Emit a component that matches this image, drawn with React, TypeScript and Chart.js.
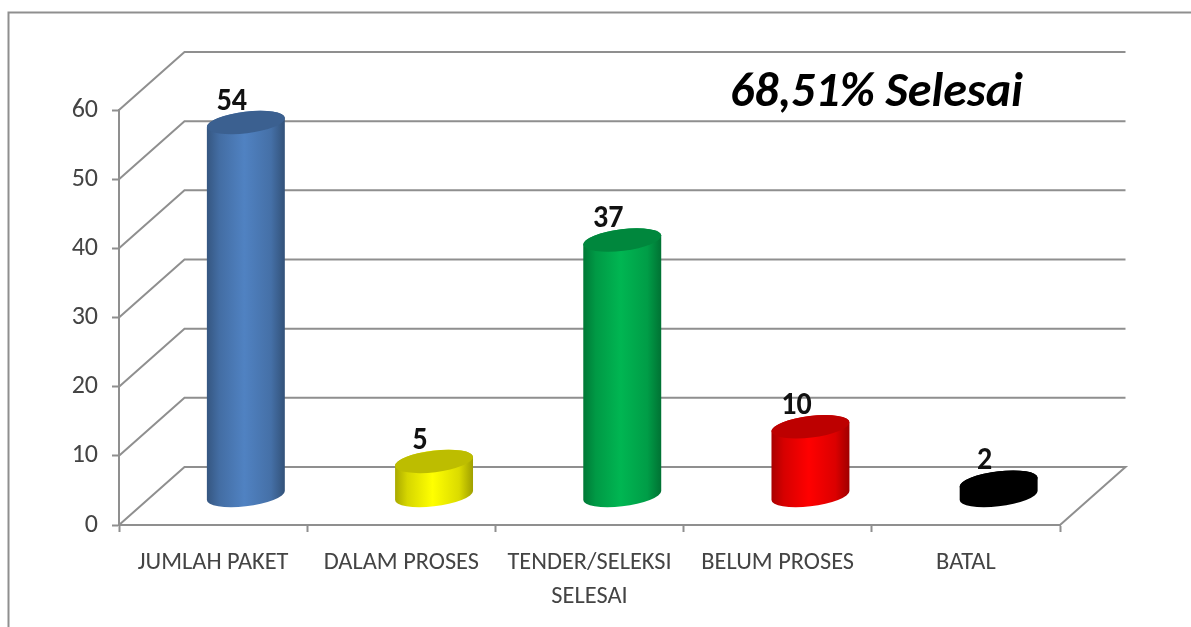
import React, { useEffect, useRef } from "react";
import { Chart, registerables } from "chart.js";

Chart.register(...registerables);

const categories: (string | string[])[] = [
  "JUMLAH PAKET",
  "DALAM PROSES",
  ["TENDER/SELEKSI", "SELESAI"],
  "BELUM PROSES",
  "BATAL",
];
const values = [54, 5, 37, 10, 2];
const barColors = ["#5082c2", "#ffff00", "#00b652", "#ff0000", "#000000"];
const annotation = "68,51% Selesai";

const GRID = "#8f8f8f";
const FONT = "Calibri, Carlito, Lato, sans-serif";
const DEPTH_X = 65.5;
const DEPTH_Y = 58;

function shade(hex: string, f: number) {
  const n = parseInt(hex.slice(1), 16);
  const c = (v: number) => Math.round(v * f);
  return `rgb(${c((n >> 16) & 255)},${c((n >> 8) & 255)},${c(n & 255)})`;
}

const wallPlugin = {
  id: "wall",
  beforeDraw(chart: any) {
    const { ctx } = chart;
    ctx.save();
    ctx.fillStyle = "#fff";
    ctx.fillRect(0, 0, chart.width, chart.height);
    ctx.strokeStyle = GRID;
    ctx.lineWidth = 2;
    ctx.beginPath();
    ctx.moveTo(8.5, chart.height);
    ctx.lineTo(8.5, 12.5);
    ctx.lineTo(chart.width, 12.5);
    ctx.stroke();
    ctx.restore();
  },
  beforeDatasetsDraw(chart: any) {
    const { ctx, chartArea, scales } = chart;
    ctx.save();
    ctx.strokeStyle = GRID;
    ctx.lineWidth = 2;
    for (const t of scales.y.ticks) {
      const y = scales.y.getPixelForValue(t.value);
      ctx.beginPath();
      ctx.moveTo(chartArea.left, y);
      ctx.lineTo(chartArea.left + DEPTH_X, y - DEPTH_Y);
      ctx.lineTo(chartArea.right + DEPTH_X, y - DEPTH_Y);
      if (t.value === 0) ctx.lineTo(chartArea.right, y);
      ctx.stroke();
    }
    ctx.restore();
  },
};

const cylinderPlugin = {
  id: "cylinder",
  beforeDatasetDraw(chart: any, args: any) {
    const { ctx } = chart;
    const meta = chart.getDatasetMeta(args.index);
    const tilt = (-7 * Math.PI) / 180;
    meta.data.forEach((el: any, i: number) => {
      const color = barColors[i];
      const a = el.width / 2;
      const b = a * 0.275;
      const cx = el.x + DEPTH_X / 2;
      const top = el.y - DEPTH_Y / 2;
      const bottom = el.base - DEPTH_Y / 2;
      const t0 = Math.atan(-(b / a) * Math.tan(tilt));
      const g = ctx.createLinearGradient(cx - a, 0, cx + a, 0);
      g.addColorStop(0, shade(color, 0.66));
      g.addColorStop(0.16, shade(color, 0.84));
      g.addColorStop(0.48, shade(color, 1));
      g.addColorStop(0.82, shade(color, 0.86));
      g.addColorStop(1, shade(color, 0.62));
      ctx.save();
      ctx.fillStyle = g;
      ctx.beginPath();
      ctx.ellipse(cx, bottom, a, b, tilt, t0, t0 + Math.PI);
      ctx.ellipse(cx, top, a, b, tilt, t0 + Math.PI, t0 + 2 * Math.PI);
      ctx.closePath();
      ctx.fill();
      ctx.fillStyle = shade(color, 0.74);
      ctx.beginPath();
      ctx.ellipse(cx, top, a, b, tilt, 0, 2 * Math.PI);
      ctx.fill();
      ctx.restore();

      // value label, stretched vertically like the reference's narrow face
      ctx.save();
      ctx.translate(cx - 14, top - 21);
      ctx.scale(1, 1.1);
      ctx.font = `bold 30px ${FONT}`;
      ctx.fillStyle = "#111";
      ctx.textAlign = "center";
      ctx.textBaseline = "middle";
      ctx.fillText(String(values[i]), 0, 0);
      ctx.restore();
    });
    return false;
  },
  afterDraw(chart: any) {
    const { ctx } = chart;
    ctx.save();
    ctx.font = `italic bold 48px ${FONT}`;
    ctx.fillStyle = "#000";
    ctx.textAlign = "left";
    ctx.textBaseline = "alphabetic";
    ctx.fillText(annotation, 730, 106);
    ctx.restore();
  },
};

export default function App() {
  const ref = useRef<HTMLCanvasElement>(null);
  useEffect(() => {
    const chart = new Chart(ref.current!, {
      type: "bar",
      data: {
        labels: categories as any,
        datasets: [
          {
            data: values,
            backgroundColor: barColors,
            barPercentage: 0.417,
            categoryPercentage: 1,
          },
        ],
      },
      options: {
        responsive: false,
        animation: false,
        layout: { padding: { top: 110, right: 131, left: 0, bottom: 0 } },
        plugins: {
          legend: { display: false },
          title: { display: false },
          tooltip: { enabled: false },
        },
        scales: {
          x: {
            afterFit: (s: any) => {
              s.height = 102;
            },
            grid: {
              display: true,
              drawOnChartArea: false,
              drawTicks: true,
              tickLength: 7,
              tickWidth: 2,
              tickColor: GRID,
              offset: true,
            },
            border: { display: true, color: GRID, width: 2 },
            ticks: {
              autoSkip: false,
              maxRotation: 0,
              minRotation: 0,
              padding: 13,
              color: "#444",
              font: { family: FONT, size: 24.4, lineHeight: 1.43 },
            },
          },
          y: {
            min: 0,
            max: 60,
            afterFit: (s: any) => {
              s.width = 119;
            },
            grid: {
              display: true,
              drawOnChartArea: false,
              drawTicks: true,
              tickLength: 7,
              tickWidth: 2,
              tickColor: GRID,
            },
            border: { display: true, color: GRID, width: 2 },
            ticks: {
              stepSize: 10,
              padding: 14,
              color: "#444",
              font: { family: FONT, size: 26 },
            },
          },
        },
      },
      plugins: [wallPlugin, cylinderPlugin],
    } as any);
    return () => chart.destroy();
  }, []);
  return (
    <canvas
      ref={ref}
      width={1191}
      height={627}
      style={{ position: "fixed", left: 0, top: 0, display: "block", filter: "blur(0.7px)" }}
    />
  );
}
